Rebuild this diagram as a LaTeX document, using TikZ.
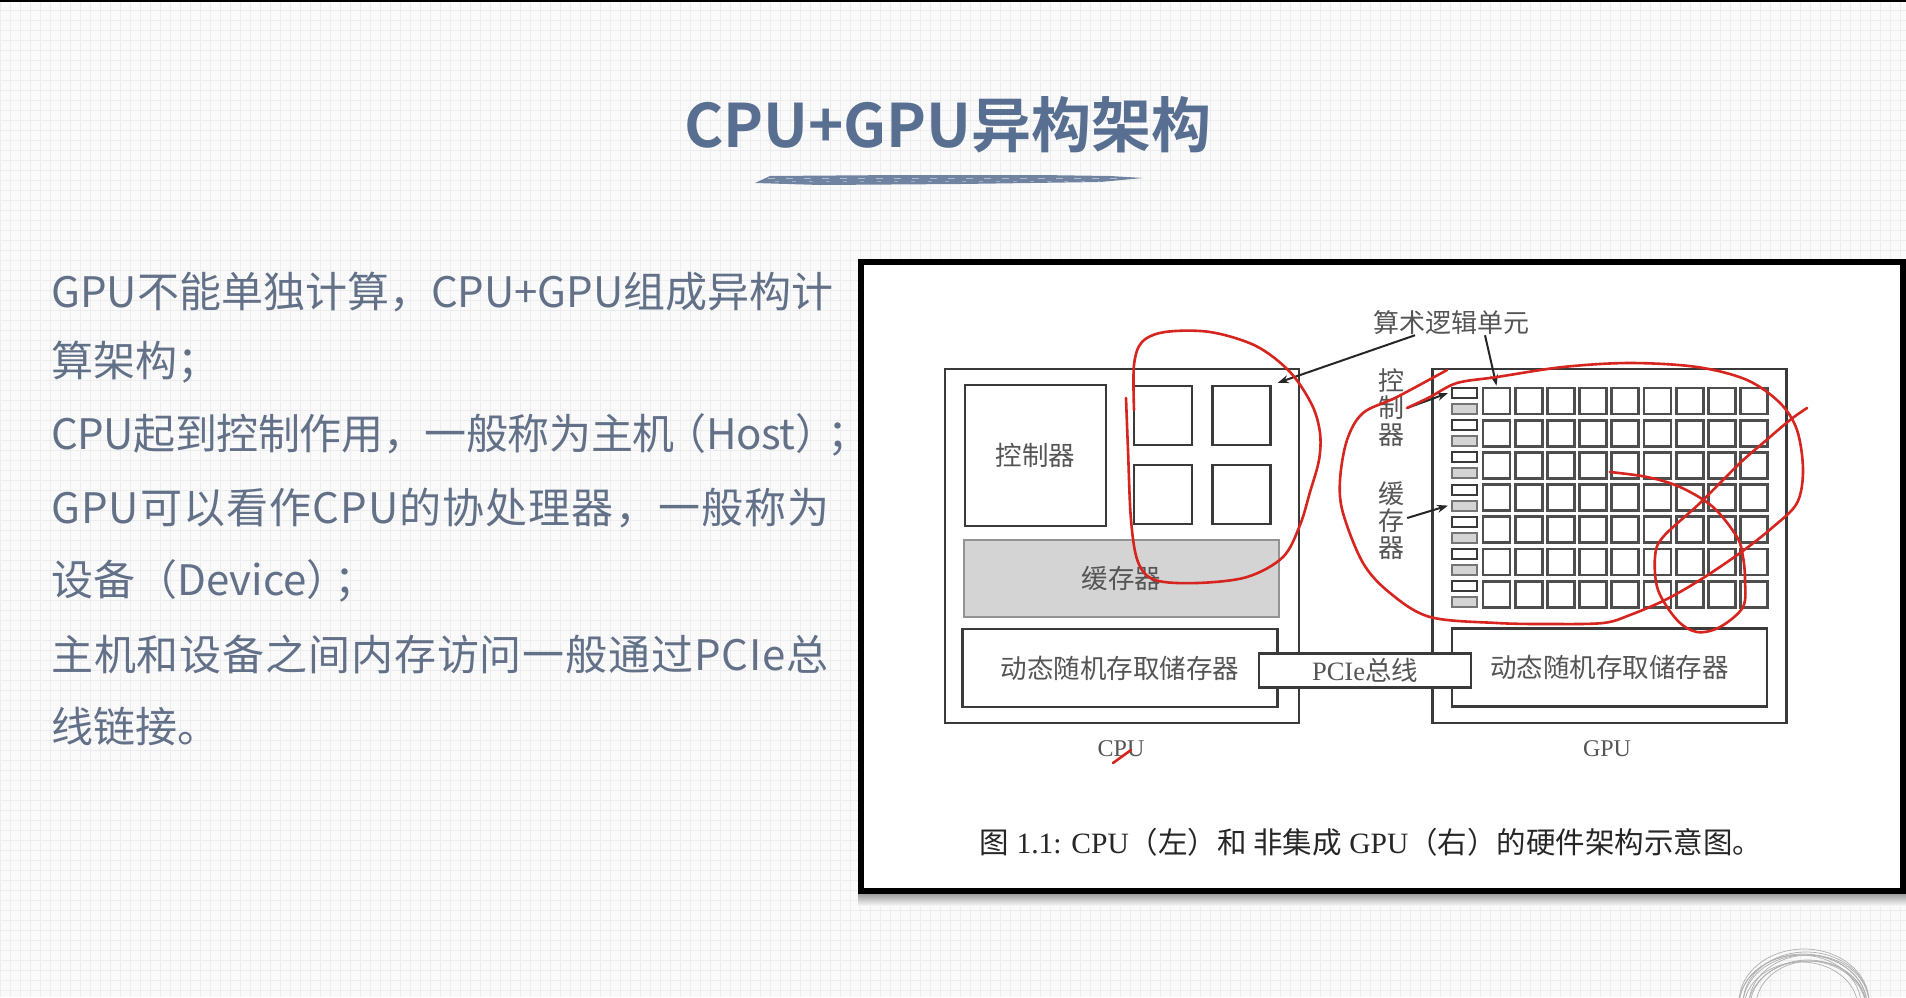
\documentclass[tikz,border=0pt]{standalone}
\usepackage{fontspec}
\setmainfont{Liberation Serif}
\newfontfamily\cjk{Noto Sans CJK SC}
\newfontfamily\cjkbf{Noto Sans CJK SC Bold}
\usepackage{xcolor}
\definecolor{TitleBlue} {RGB}{88, 111, 145}
\definecolor{BodyText}  {RGB}{98, 112, 136}
\definecolor{PaperBg}   {RGB}{250, 250, 251}
\definecolor{GridLine}  {RGB}{237, 237, 239}
\definecolor{BoxLine}   {RGB}{58,  58,  58}
\definecolor{CacheFill} {RGB}{212, 212, 212}
\definecolor{LabelGray} {RGB}{85,  85,  85}
\definecolor{PenRed}    {RGB}{214, 36,  30}
\definecolor{LogoGray}  {RGB}{175, 175, 175}
\usepackage{tikz}
\usetikzlibrary{
  arrows.meta,
  positioning
}

\begin{document}
\begin{tikzpicture}[
  x=1pt, y=-1pt,
  bodytext/.style={
    anchor=west, inner sep=0pt, text=BodyText,
    font=\cjk\fontsize{42}{44}\selectfont},
  spread/.style={font=\cjk\fontsize{42}{44}\selectfont
    \addfontfeature{LetterSpace=#1}},
  titletext/.style={
    inner sep=0pt, text=TitleBlue,
    font=\cjkbf\fontsize{60}{60}\selectfont},
  box/.style={
    draw=BoxLine, line width=2.4pt, inner sep=0pt,
    text=LabelGray, font=\cjk\fontsize{26.5}{28}\selectfont},
  chip/.style={box, minimum width=354pt, minimum height=354pt},
  alu/.style={box, minimum width=58pt, minimum height=59pt},
  wide/.style={box, minimum width=315pt, minimum height=78pt},
  cell/.style={box, line width=2.8pt, draw=BoxLine!90,
    minimum width=27pt, minimum height=26pt},
  ctlbox/.style={box, line width=2pt,
    minimum width=25pt, minimum height=10pt},
  cachebox/.style={ctlbox, draw=BoxLine!70, fill=CacheFill},
  lbl/.style={inner sep=0pt, text=LabelGray,
    font=\cjk\fontsize{26}{27}\selectfont, align=center},
  chiplbl/.style={inner sep=0pt, text=LabelGray,
    font=\fontsize{24}{26}\selectfont},
  caption/.style={inner sep=0pt, text=black!85,
    font=\fontsize{29.5}{31}\selectfont},
  arr/.style={
    -{Stealth[length=11pt, width=8pt]},
    line width=2pt, draw=black!85},
  redpen/.style={
    draw=PenRed, line width=2.6pt,
    line cap=round, line join=round}
]

% page, grid and frame
\useasboundingbox (0,0) rectangle (1906,997);
\fill[PaperBg] (0,0) rectangle (1906,997);
\draw[GridLine, line width=0.8pt, step=10pt] (0,997) grid (1906,0);
\draw[black, line width=2pt] (0,1) -- (1906,1);
\foreach \dx/\dy/\rx/\ry in {0/0/62/50, 3/2/58/47, -2/1/64/52,
    4/-1/60/49, -4/3/57/46, 1/-2/63/51, 6/1/55/45, -5/0/61/50,
    2/4/59/48, -1/-3/65/53}
  \draw[LogoGray, line width=0.7pt]
    ({1805+\dx},{1005+\dy}) ellipse[x radius=\rx, y radius=\ry];

% title
\node[titletext] (title) at (948,125) {CPU+GPU异构架构};
\fill[TitleBlue, opacity=0.85]
  (755,183) -- (770,176) -- (900,175) -- (1040,175) -- (1110,176)
  -- (1143,178) -- (1100,182) -- (960,184) -- (820,185) -- cycle;
\draw[white, opacity=0.45, line width=1pt, dash pattern=on 7pt off 11pt]
  (768,178) -- (1120,178);
\draw[white, opacity=0.35, line width=1pt, dash pattern=on 4pt off 13pt]
  (775,181) -- (1100,181);

% left text
\node[bodytext] (l1) at (51,292) {GPU不能单独计算，CPU+GPU组成异构计};
\node[bodytext] (l2) at (51,362) {算架构；};
\node[bodytext, spread=-1.0] (l3) at (51,435)
  {CPU起到控制作用，一般称为主机\kern-10pt（Host）\kern-10pt；};
\node[bodytext, spread=2.6] (l4) at (51,508) {GPU可以看作CPU的协处理器，一般称为};
\node[bodytext] (l5) at (51,581) {设备（Device）\kern-14pt；};
\node[bodytext, spread=2.1] (l6) at (51,654) {主机和设备之间内存访问一般通过PCIe总};
\node[bodytext] (l7) at (51,727) {线链接。};

% figure frame
\shade[top color=black!40, bottom color=PaperBg]
  (858,893) rectangle (1906,906);
\draw[black, line width=6pt, fill=white] (861,262) rectangle (1903,891);

% CPU
\node[chip] (cpu) at (1122,546) {};
\node[box, minimum width=141pt, minimum height=141pt]
  (ctrl) at (1035.5,455.5) {控制器};
\node[alu] (alu-tl) at (1163,415.5) {};
\node[alu] (alu-tr) at (1241.5,415.5) {};
\node[alu] (alu-bl) at (1163,494.5) {};
\node[alu] (alu-br) at (1241.5,494.5) {};
\node[wide, fill=CacheFill, draw=BoxLine!55, minimum height=77pt]
  (cache) at (1121.5,578.5) {缓存器};
\node[wide] (dram-c) at (1120,668) {动态随机存取储存器};

% GPU
\node[chip] (gpu) at (1609.5,546) {};
\node[wide] (dram-g) at (1609.5,667.5) {动态随机存取储存器};
\foreach \i in {0,...,8}
  \foreach \j in {0,...,6}
    \node[cell] (cell-\i-\j) at ({1496.5+32.2*\i},{401+32.2*\j}) {};
\foreach \j in {0,...,6} {
  \node[ctlbox] (ctl-\j) at (1464.5,{393+32.2*\j}) {};
  \node[cachebox] (gc-\j) at (1464.5,{409+32.2*\j}) {};
}

% bus
\node[box, fill=white, minimum width=212pt, minimum height=34pt]
  (pcie) at (1365,670.5) {{\rmfamily PCIe}总线};

% labels
\node[lbl] (alulbl) at (1451,323) {算术逻辑单元};
\node[lbl] (ctllbl) at (1391,408) {控\\制\\器};
\node[lbl] (cachelbl) at (1391,521) {缓\\存\\器};
\node[chiplbl] (cpulbl) at (1121,749) {CPU};
\node[chiplbl] (gpulbl) at (1607,749) {GPU};
\node[caption] (cap) at (1371,842)
  {{\cjk 图} 1.1: CPU{\cjk （左）和 非集成} GPU{\cjk （右）的硬件架构示意图。}};

\draw[arr] ([xshift=-36pt]alulbl.south) -- ([xshift=6pt,yshift=2pt]alu-tr.north east);
\draw[arr] ([xshift=34pt]alulbl.south) -- ([yshift=1pt]cell-0-0.north);
\draw[arr] ([xshift=3pt]ctllbl.east) -- ([xshift=-3pt]ctl-0.west);
\draw[arr] ([xshift=3pt,yshift=3pt]cachelbl.east) -- ([xshift=-3pt]gc-3.west);

% red pen marks
\draw[redpen] plot[smooth, tension=0.55] coordinates {
  (1126,398) (1128,450) (1131,520) (1138,562) (1155,580) (1197,583)
  (1247,577) (1283,557) (1300,525) (1310,492) (1319,460) (1320,433)
  (1312,405) (1290,372) (1256,346) (1210,332) (1165,332) (1142,342)
  (1134,365) (1134,410)};
\draw[redpen] plot[smooth, tension=0.55] coordinates {
  (1407,408) (1430,397) (1457,383) (1497,377) (1563,367) (1630,363)
  (1697,367) (1747,380) (1780,403) (1797,430) (1803,470) (1797,503)
  (1773,527) (1740,553) (1700,580) (1665,600) (1630,615) (1603,623)
  (1550,624) (1497,623) (1430,617) (1390,593) (1363,563) (1343,513)
  (1340,480) (1347,440) (1363,413) (1397,397) (1447,370)};
\draw[redpen] plot[smooth, tension=0.55] coordinates {
  (1807,408) (1790,420) (1763,443) (1740,463) (1700,503) (1663,537)
  (1655,557) (1658,590) (1677,620) (1697,632) (1720,627) (1743,607)
  (1745,580) (1743,557) (1737,537) (1713,507) (1680,487) (1647,477)
  (1610,472)};
\draw[redpen] (1113,763) -- (1131,750);

\end{tikzpicture}
\end{document}
